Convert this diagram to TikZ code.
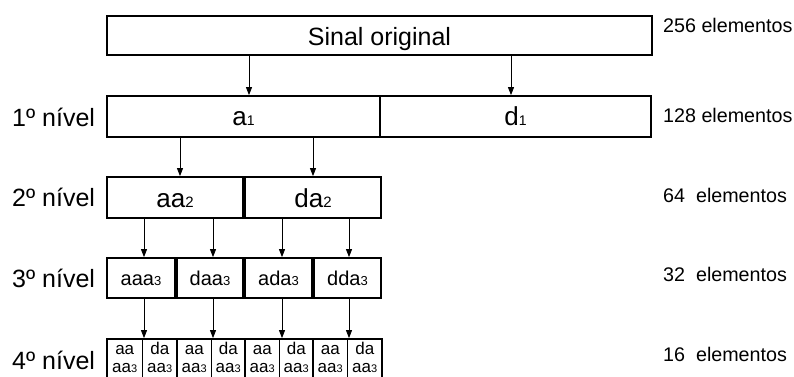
\documentclass[tikz,border=0pt]{standalone}
\usepackage{fontspec}
\setmainfont{Liberation Sans}
\usetikzlibrary{arrows.meta}
% font sizes used in the decomposition tree
\newcommand\fsBig{\fontsize{25pt}{30pt}\selectfont}
\newcommand\fsBox{\fontsize{26pt}{30pt}\selectfont}
\newcommand\fsMid{\fontsize{20pt}{24pt}\selectfont}
\newcommand\fsSmall{\fontsize{17pt}{20pt}\selectfont}
\newcommand\fsCount{\fontsize{19.7pt}{24pt}\selectfont}
% small level index written on the baseline
\newcommand\idx[2]{{\fontsize{#1}{#1}\selectfont #2}}
\begin{document}
\begin{tikzpicture}[x=1pt,y=-1pt,
  box/.style={draw, line width=1.8pt, inner sep=0pt, text depth=0pt},
  arr/.style={-{Triangle[length=8pt,width=6pt]}, line width=0.9pt},
  lvl/.style={anchor=base west, inner sep=0pt, font=\fsBig},
  cnt/.style={anchor=base west, inner sep=0pt, font=\fsCount},
  sm/.style={anchor=base, inner sep=0pt, text depth=0pt, font=\fsSmall},
]
\useasboundingbox (0,0) rectangle (794,376);
\clip (0,0) rectangle (794,376);

% original signal
\node[box, minimum width=545pt, minimum height=39pt, text height=19pt, font=\fsBig]
  (sig) at (379.5,35.5) {Sinal original};

% level 1
\node[box, minimum width=273pt, minimum height=41pt, text height=17pt, font=\fsBox]
  (a1) at (243.5,116.5) {a\idx{14pt}{1}};
\node[box, minimum width=271pt, minimum height=41pt, text height=17pt, font=\fsBox]
  (d1) at (515.5,116.5) {d\idx{14pt}{1}};

% level 2
\node[box, minimum width=136pt, minimum height=41pt, text height=19pt, font=\fsBox]
  (aa2) at (175,197.5) {aa\idx{15pt}{2}};
\node[box, minimum width=136pt, minimum height=41pt, text height=19pt, font=\fsBox]
  (da2) at (313,197.5) {da\idx{15pt}{2}};

% level 3
\node[box, minimum width=68pt, minimum height=40pt, text height=14pt, font=\fsMid]
  (l3a) at (141,278) {aaa\idx{13pt}{3}};
\node[box, minimum width=66pt, minimum height=40pt, text height=14pt, font=\fsMid]
  (l3b) at (210,278) {daa\idx{13pt}{3}};
\node[box, minimum width=67pt, minimum height=40pt, text height=14pt, font=\fsMid]
  (l3c) at (278.5,278) {ada\idx{13pt}{3}};
\node[box, minimum width=67pt, minimum height=40pt, text height=14pt, font=\fsMid]
  (l3d) at (347.5,278) {dda\idx{13pt}{3}};

% level 4: boxes run past the lower edge
\foreach \l/\r/\t/\n in {107/142.5/aa/l4a, 142.5/177/da/l4b, 177/211.5/aa/l4c,
    211.5/245/da/l4d, 245/279.5/aa/l4e, 279.5/313/da/l4f, 313/347.5/aa/l4g,
    347.5/382/da/l4h}{
  \node[box, minimum width={\r pt-\l pt}, minimum height=60pt]
    (\n) at ({(\l+\r)/2},369) {};
  \node[sm] (\n t1) at ([yshift=-16pt]\n.north) {\t};
  \node[sm] (\n t2) at ([yshift=-34pt]\n.north) {aa\idx{11pt}{3}};
}

% arrows
\coordinate (j1) at ([xshift=5.5pt]a1.north);
\coordinate (j2) at ([xshift=-4.5pt]d1.north);
\draw[arr] (sig.south -| j1) -- (j1);
\draw[arr] (sig.south -| j2) -- (j2);

\coordinate (k1) at ([xshift=5pt]aa2.north);
\draw[arr] (a1.south -| k1) -- (k1);
\draw[arr] (a1.south -| da2.north) -- (da2.north);

\coordinate (m1) at ([xshift=0.6pt]l4a.north east);
\coordinate (m2) at ([xshift=0.6pt]l4c.north east);
\coordinate (m3) at ([xshift=1.6pt]l4e.north east);
\coordinate (m4) at ([xshift=0.6pt]l4g.north east);
\draw[arr] (aa2.south -| m1) -- (l3a.north -| m1);
\draw[arr] (aa2.south -| m2) -- (l3b.north -| m2);
\draw[arr] (da2.south -| m3) -- (l3c.north -| m3);
\draw[arr] (da2.south -| m4) -- (l3d.north -| m4);
\draw[arr] (l3a.south -| m1) -- (m1);
\draw[arr] (l3b.south -| m2) -- (m2);
\draw[arr] (l3c.south -| m3) -- (m3);
\draw[arr] (l3d.south -| m4) -- (m4);

% level names
\node[lvl] (n1) at (12,126) {1º nível};
\node[lvl] (n2) at (12,206) {2º nível};
\node[lvl] (n3) at (12,287) {3º nível};
\node[lvl] (n4) at (12,369) {4º nível};

% number of coefficients per level
\node[cnt] (c0) at (663,32) {256 elementos};
\node[cnt] (c1) at (663,122) {128 elementos};
\node[cnt] (c2) at (663,202) {64~~elementos};
\node[cnt] (c3) at (663,281) {32~~elementos};
\node[cnt] (c4) at (663,361) {16~~elementos};
\end{tikzpicture}
\end{document}
